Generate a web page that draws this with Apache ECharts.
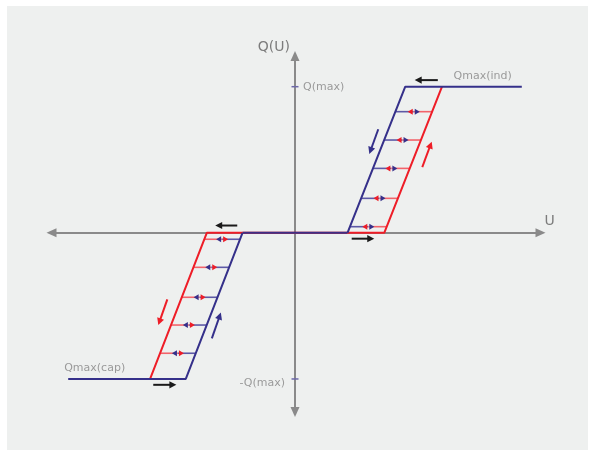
<!DOCTYPE html>
<html>
<head>
<meta charset="utf-8">
<script src="https://cdn.jsdelivr.net/npm/echarts@6/dist/echarts.min.js"></script>
<style>
  html, body { margin: 0; padding: 0; background: #ffffff; }
  #chart { width: 589px; height: 450px; }
</style>
</head>
<body>
<div id="chart"></div>
<script>
// Q(U) characteristic with hysteresis: voltage U (relative units) vs. reactive power Q (per unit of Qmax)

// inductive branch (upper right)
const indRising  = [[5, 0], [8.5, 0], [14, 1]];          // red: U rising
const indFalling = [[21.6, 1], [10.5, 1], [5, 0]];       // blue: U falling
// capacitive branch (lower left)
const capFalling = [[-5, 0], [-8.4, 0], [-13.8, -1]];    // red: U falling
const capRising  = [[-21.6, -1], [-10.4, -1], [-5, 0]];  // blue: U rising
// dead band around the nominal voltage
const deadBand = [[-5, 0], [5, 0]];

// Q levels of the horizontal transitions between the two curves
const indLevels = [0.042, 0.236, 0.441, 0.635, 0.829];
const capLevels = [-0.044, -0.236, -0.441, -0.631, -0.824];

// direction arrows: [u1, q1, u2, q2]
const blackArrows = [
  [13.6, 1.045, 11.4, 1.045],
  [5.4, -0.04, 7.55, -0.04],
  [-5.5, 0.05, -7.6, 0.05],
  [-13.5, -1.04, -11.3, -1.04]
];
const blueArrows = [
  [7.93, 0.709, 7.08, 0.54],
  [-7.92, -0.722, -7.06, -0.546]
];
const redArrows = [
  [12.12, 0.449, 13.02, 0.624],
  [-12.16, -0.455, -13.02, -0.631]
];

// axis tick labels at ±Qmax and the branch labels
const tickValues = [1, -1];
const tickLabels = ['Q(max)', '-Q(max)'];
const branchLabels = ['Qmax(ind)', 'Qmax(cap)'];
const axisNames = ['U', 'Q(U)'];

const BLUE = '#35308a';
const RED = '#ee1d27';
const BLUE_LIGHT = '#5d59a6';
const RED_LIGHT = '#f2636a';
const GREY = '#8a8a8a';
const LABEL = '#9a9a9a';
const FONT = '"DejaVu Sans", sans-serif';

const U_MIN = -23.19, U_MAX = 23.38;
const Q_MIN = -1.226, Q_MAX = 1.21;

// U on a polyline at a given Q (on its sloped segment)
function uAt(path, q) {
  for (let i = 0; i < path.length - 1; i++) {
    const a = path[i], b = path[i + 1];
    if (a[1] === b[1]) continue;
    const lo = Math.min(a[1], b[1]), hi = Math.max(a[1], b[1]);
    if (q >= lo && q <= hi) {
      const t = (q - a[1]) / (b[1] - a[1]);
      return a[0] + t * (b[0] - a[0]);
    }
  }
  return null;
}

function headPoints(tip, dir, len, half) {
  const bx = tip[0] - dir[0] * len, by = tip[1] - dir[1] * len;
  return [tip, [bx - dir[1] * half, by + dir[0] * half], [bx + dir[1] * half, by - dir[0] * half]];
}

// transition lines with a pair of opposing arrowheads
function hatchSeries(left, right, leftColor, rightColor, leftLight, rightLight, levels) {
  return {
    type: 'custom',
    coordinateSystem: 'cartesian2d',
    data: levels.map(q => [0, q]),
    encode: { x: 0, y: 1 },
    z: 3,
    silent: true,
    renderItem: function (params, api) {
      const q = api.value(1);
      const p1 = api.coord([uAt(left, q), q]);
      const p2 = api.coord([uAt(right, q), q]);
      const y = p1[1];
      const mid = (p1[0] + p2[0]) / 2;
      return {
        type: 'group',
        children: [
          { type: 'line', shape: { x1: p1[0], y1: y, x2: mid, y2: y }, style: { stroke: leftLight, lineWidth: 1.6 } },
          { type: 'line', shape: { x1: mid, y1: y, x2: p2[0], y2: y }, style: { stroke: rightLight, lineWidth: 1.6 } },
          { type: 'polygon', shape: { points: headPoints([mid - 6, y], [-1, 0], 5, 3) }, style: { fill: rightColor } },
          { type: 'polygon', shape: { points: headPoints([mid + 6, y], [1, 0], 5, 3) }, style: { fill: leftColor } }
        ]
      };
    }
  };
}

function arrowSeries(list, color) {
  return {
    type: 'custom',
    coordinateSystem: 'cartesian2d',
    data: list,
    encode: { x: [0, 2], y: [1, 3] },
    z: 4,
    silent: true,
    renderItem: function (params, api) {
      const p1 = api.coord([api.value(0), api.value(1)]);
      const p2 = api.coord([api.value(2), api.value(3)]);
      const dx = p2[0] - p1[0], dy = p2[1] - p1[1];
      const l = Math.hypot(dx, dy);
      const dir = [dx / l, dy / l];
      const headLen = 7;
      return {
        type: 'group',
        children: [
          { type: 'line', shape: { x1: p1[0], y1: p1[1], x2: p2[0] - dir[0] * (headLen - 1), y2: p2[1] - dir[1] * (headLen - 1) },
            style: { stroke: color, lineWidth: 2 } },
          { type: 'polygon', shape: { points: headPoints(p2, dir, headLen, 3.6) }, style: { fill: color } }
        ]
      };
    }
  };
}

function curve(data, color, z) {
  return {
    type: 'line',
    data: data,
    showSymbol: false,
    symbol: 'none',
    silent: true,
    z: z,
    lineStyle: { color: color, width: 2 },
    animation: false
  };
}

// ticks at ±Qmax on the Q axis with their labels
const tickSeries = {
  type: 'custom',
  coordinateSystem: 'cartesian2d',
  data: tickValues.map(v => [0, v]),
  encode: { x: 0, y: 1 },
  z: 5,
  silent: true,
  renderItem: function (params, api) {
    const p = api.coord([0, api.value(1)]);
    const upper = api.value(1) > 0;
    return {
      type: 'group',
      children: [
        { type: 'line', shape: { x1: p[0] - 3.5, y1: p[1], x2: p[0] + 3.5, y2: p[1] }, style: { stroke: '#6d68a8', lineWidth: 1.5 } },
        { type: 'text', style: {
            x: upper ? p[0] + 8 : p[0] - 10, y: upper ? p[1] : p[1] + 4.5,
            text: tickLabels[params.dataIndex], fill: LABEL, font: '11px ' + FONT,
            align: upper ? 'left' : 'right', verticalAlign: 'middle' } }
      ]
    };
  }
};

// labels at the far ends of the saturated branches
const branchLabelSeries = {
  type: 'custom',
  coordinateSystem: 'cartesian2d',
  data: [indFalling[0], capRising[0]],
  encode: { x: 0, y: 1 },
  z: 5,
  silent: true,
  renderItem: function (params, api) {
    const p = api.coord([api.value(0), api.value(1)]);
    const upper = api.value(1) > 0;
    return {
      type: 'text',
      style: {
        x: upper ? p[0] - 10 : p[0] - 4, y: p[1] - 10.5,
        text: branchLabels[params.dataIndex], fill: LABEL, font: '11px ' + FONT,
        align: upper ? 'right' : 'left', verticalAlign: 'middle'
      }
    };
  }
};

// axis names next to the arrow tips
const axisNameSeries = {
  type: 'custom',
  coordinateSystem: 'cartesian2d',
  data: [[U_MAX, 0], [0, Q_MAX]],
  encode: { x: 0, y: 1 },
  z: 5,
  silent: true,
  renderItem: function (params, api) {
    const p = api.coord([api.value(0), api.value(1)]);
    const isU = params.dataIndex === 0;
    return {
      type: 'text',
      style: {
        x: isU ? p[0] + 4 : p[0] - 5, y: isU ? p[1] - 11.5 : p[1] - 9,
        text: axisNames[params.dataIndex], fill: '#7c7c7c', font: '14px ' + FONT,
        align: isU ? 'left' : 'right', verticalAlign: 'middle'
      }
    };
  }
};

const chart = echarts.init(document.getElementById('chart'), null, { renderer: 'canvas' });
chart.setOption({
  animation: false,
  backgroundColor: '#eef0ef',
  graphic: [
    { type: 'rect', shape: { x: 0, y: 0, width: 589, height: 6 }, style: { fill: '#ffffff' }, silent: true },
    { type: 'rect', shape: { x: 0, y: 0, width: 7, height: 450 }, style: { fill: '#ffffff' }, silent: true },
    { type: 'rect', shape: { x: 588, y: 0, width: 1, height: 450 }, style: { fill: '#ffffff' }, silent: true }
  ],
  grid: { left: 51.5, right: 48.5, top: 56, bottom: 38, containLabel: false },
  xAxis: {
    type: 'value', min: U_MIN, max: U_MAX,
    axisLine: { show: true, onZero: true, symbol: ['triangle', 'triangle'], symbolSize: [9, 10],
      lineStyle: { color: GREY, width: 2 } },
    axisTick: { show: false }, axisLabel: { show: false }, splitLine: { show: false }
  },
  yAxis: {
    type: 'value', min: Q_MIN, max: Q_MAX,
    axisLine: { show: true, onZero: true, symbol: ['triangle', 'triangle'], symbolSize: [9, 10],
      lineStyle: { color: GREY, width: 2 } },
    axisTick: { show: false }, axisLabel: { show: false }, splitLine: { show: false }
  },
  series: [
    curve(deadBand, RED, 2),
    curve(deadBand, '#3d2f86', 2),
    curve(indRising, RED, 3),
    curve(capFalling, RED, 3),
    curve(indFalling, BLUE, 3),
    curve(capRising, BLUE, 3),
    hatchSeries(indFalling, indRising, BLUE, RED, BLUE_LIGHT, RED_LIGHT, indLevels),
    hatchSeries(capFalling, capRising, RED, BLUE, RED_LIGHT, BLUE_LIGHT, capLevels),
    arrowSeries(blackArrows, '#1a1a1a'),
    arrowSeries(blueArrows, BLUE),
    arrowSeries(redArrows, RED),
    tickSeries,
    branchLabelSeries,
    axisNameSeries
  ]
});
</script>
</body>
</html>
